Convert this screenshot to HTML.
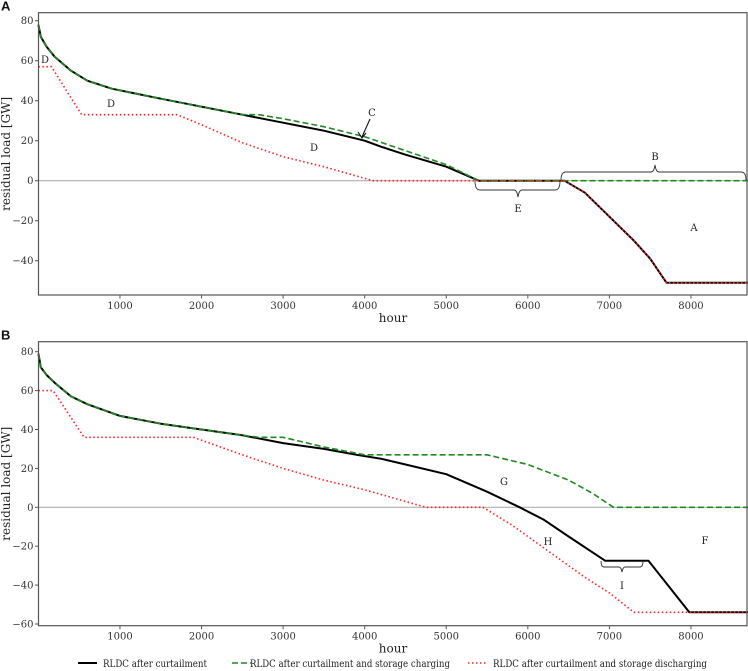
<!DOCTYPE html>
<html><head><meta charset="utf-8">
<style>
body{margin:0;background:#fff;}
svg{display:block;font-family:"DejaVu Serif","Liberation Serif",serif;}
</style></head>
<body>
<svg id="chart" width="748" height="671" viewBox="0 0 748 671"></svg>
<script>
// ---- data ----
const xTicks=[1000,2000,3000,4000,5000,6000,7000,8000];
const yTicksA=[80,60,40,20,0,-20,-40];
const yTicksB=[80,60,40,20,0,-20,-40,-60];
const aBlackH=[0,30,100,200,400,600,900,1500,2000,2500,3000,3500,4000,4200,4500,5000,5400,6450,6700,7000,7300,7500,7650,7700,8760];
const aBlackV=[78,72,67,62,55,50,46,41,37,33,29,25,20,17,13,7,0,0,-6,-18,-30,-39,-48,-51,-51];
const aGreenH=[0,30,100,200,400,600,900,1500,2000,2500,2700,3000,3500,4000,4500,5000,5400,8760];
const aGreenV=[78,72,67,62,55,50,46,41,37,33,33,31,27,22,15,8,0,0];
const aRedH=[0,160,530,1700,2000,2500,3000,3500,4100,6450,6700,7000,7300,7500,7650,7700,8760];
const aRedV=[57,57,33,33,28,19,12,7,0,0,-6,-18,-30,-39,-48,-51,-51];
const bBlackH=[0,30,100,200,400,600,1000,1500,2000,2500,3000,3500,3900,4200,4500,5000,5500,5900,6200,6500,6950,7480,7980,8760];
const bBlackV=[79,72,68,64,57,53,47,43,40,37,33,30,27,25,22,17,8,0,-6.5,-15,-27.5,-27.5,-54,-54];
const bGreenH=[0,30,100,200,400,600,1000,1500,2000,2500,2700,3000,3500,4000,5500,6000,6500,6800,7050,8760];
const bGreenV=[79,72,68,64,57,53,47,43,40,37,36,36,31,27,27,22,14,7,0,0];
const bRedH=[0,180,560,1900,2500,3000,3500,4000,4250,4750,5450,5800,6200,6700,7000,7300,8760];
const bRedV=[60,60,36,36,27,20,14,9,6,0,0,-9,-21,-36,-44,-54,-54];

const NS="http://www.w3.org/2000/svg";
const svg=document.getElementById('chart');
function el(tag,attrs,parent,text){const e=document.createElementNS(NS,tag);for(const k in attrs)e.setAttribute(k,attrs[k]);if(text!==undefined)e.textContent=text;(parent||svg).appendChild(e);return e;}

const X0=38.4, XS=0.08157, XR=747;
function makePanel(name,top,bottom,y0pix,yscale,yTicks,series,letter){
  const g=el('g',{});
  
  
  const sx=h=>X0+h*XS;
  const sy=v=>y0pix-v*yscale;
  const L=38.5;
  const z=el('line',{x1:L,x2:XR,y1:sy(0),y2:sy(0),stroke:'#b0b0b0','stroke-width':1.2},g);
  
  
  series.forEach(s=>{
    const pts=s.h.map((h,i)=>sx(h).toFixed(1)+','+sy(s.v[i]).toFixed(1)).join(' ');
    const p=el('polyline',{points:pts,fill:'none',stroke:s.c,'stroke-width':s.w,'stroke-dasharray':s.d||'none','stroke-linejoin':'round'},g);
    
    
  });
  const f=el('rect',{x:L,y:top,width:XR-L,height:bottom-top,fill:'none',stroke:'#555','stroke-width':1.2},g);
  
  
  xTicks.forEach(t=>{
    el('line',{x1:sx(t),x2:sx(t),y1:bottom,y2:bottom+3.5,stroke:'#555'},g);
    const tx=el('text',{x:sx(t),y:bottom+14,'text-anchor':'middle','font-size':10,fill:'#333'},g,String(t));
    
    
  });
  yTicks.forEach(t=>{
    el('line',{x1:L-3.5,x2:L,y1:sy(t),y2:sy(t),stroke:'#555'},g);
    const tx=el('text',{x:L-5,y:sy(t)+3.5,'text-anchor':'end','font-size':10,fill:'#333'},g,(t<0?'\u2212'+(-t):String(t)));
    
    
  });
  const xt=el('text',{x:393,y:bottom+27,'text-anchor':'middle','font-size':12,fill:'#222'},g,'hour');
  
  
  const ym=(top+bottom)/2;
  const yt=el('text',{x:0,y:0,transform:'translate(10,'+ym+') rotate(-90)','text-anchor':'middle','font-size':12,fill:'#222'},g,'residual load [GW]');
  
  
  const pl=el('text',{x:1,y:top-2,'font-size':13,'font-weight':'bold','font-family':'Liberation Sans, sans-serif',fill:'#111'},g,letter);
  
  
  return g;
}

makePanel('panel-a',12.7,295,180.7,2.0,yTicksA,[
 {h:aBlackH,v:aBlackV,c:'#000',w:2,n:'a-curtailment-line'},
 {h:aGreenH,v:aGreenV,c:'#1f8a1f',w:1.6,d:'6 3',n:'a-charging-line'},
 {h:aRedH,v:aRedV,c:'#ff2020',w:1.6,d:'1.5 2.5',n:'a-discharging-line'}
],'A');
makePanel('panel-b',341.7,625.7,507.3,1.945,yTicksB,[
 {h:bBlackH,v:bBlackV,c:'#000',w:2,n:'b-curtailment-line'},
 {h:bGreenH,v:bGreenV,c:'#1f8a1f',w:1.6,d:'6 3',n:'b-charging-line'},
 {h:bRedH,v:bRedV,c:'#ff2020',w:1.6,d:'1.5 2.5',n:'b-discharging-line'}
],'B');

function ann(t,x,y){const a=el('text',{x:x,y:y,'text-anchor':'middle','font-size':10,fill:'#222'},svg,t);
 
 }
[['D',45,63],['D',111,107],['D',314,151],['C',372,116],['B',655,160],['E',518,212],['A',694,231],
 ['G',504,485],['H',548,545],['F',705,544],['I',622,589]].forEach(a=>ann(a[0],a[1],a[2]));
function brace(d,name){const b=el('path',{d:d,fill:'none',stroke:'#333','stroke-width':0.9});
 
 }
brace('M561,180 Q561,172 566,172 L651,172 Q654,172 655,165 Q656,172 659,172 L741,172 Q746,172 746,180','brace-b');
brace('M475,181 Q475,190 480,190 L514,190 Q517,190 518,197 Q519,190 522,190 L555,190 Q560,190 560,181','brace-e');
brace('M601,561 Q601,567 604,567 L619,567 Q621,567 622,572 Q623,567 625,567 L640,567 Q643,567 643,561','brace-i');
const arr=el('path',{d:'M370,119 L362,137 M358,132 L362,138 L366,133',fill:'none',stroke:'#111','stroke-width':1.1});



const lg=el('g',{});


[[78,'#000','none',2,103,'RLDC after curtailment',104],
 [232,'#1f8a1f','6 3',1.6,250,'RLDC after curtailment and storage charging',200],
 [468,'#ff2020','1.5 2.5',1.6,493,'RLDC after curtailment and storage discharging',214]].forEach(e=>{
  const it=el('g',{},lg);
  
  
  el('line',{x1:e[0],x2:e[0]+19,y1:663,y2:663,stroke:e[1],'stroke-width':e[3],'stroke-dasharray':e[2]},it);
  el('text',{x:e[4],y:667,'font-size':10,fill:'#222',textLength:e[6],lengthAdjust:'spacingAndGlyphs'},it,e[5]);
});
</script>
</body></html>
